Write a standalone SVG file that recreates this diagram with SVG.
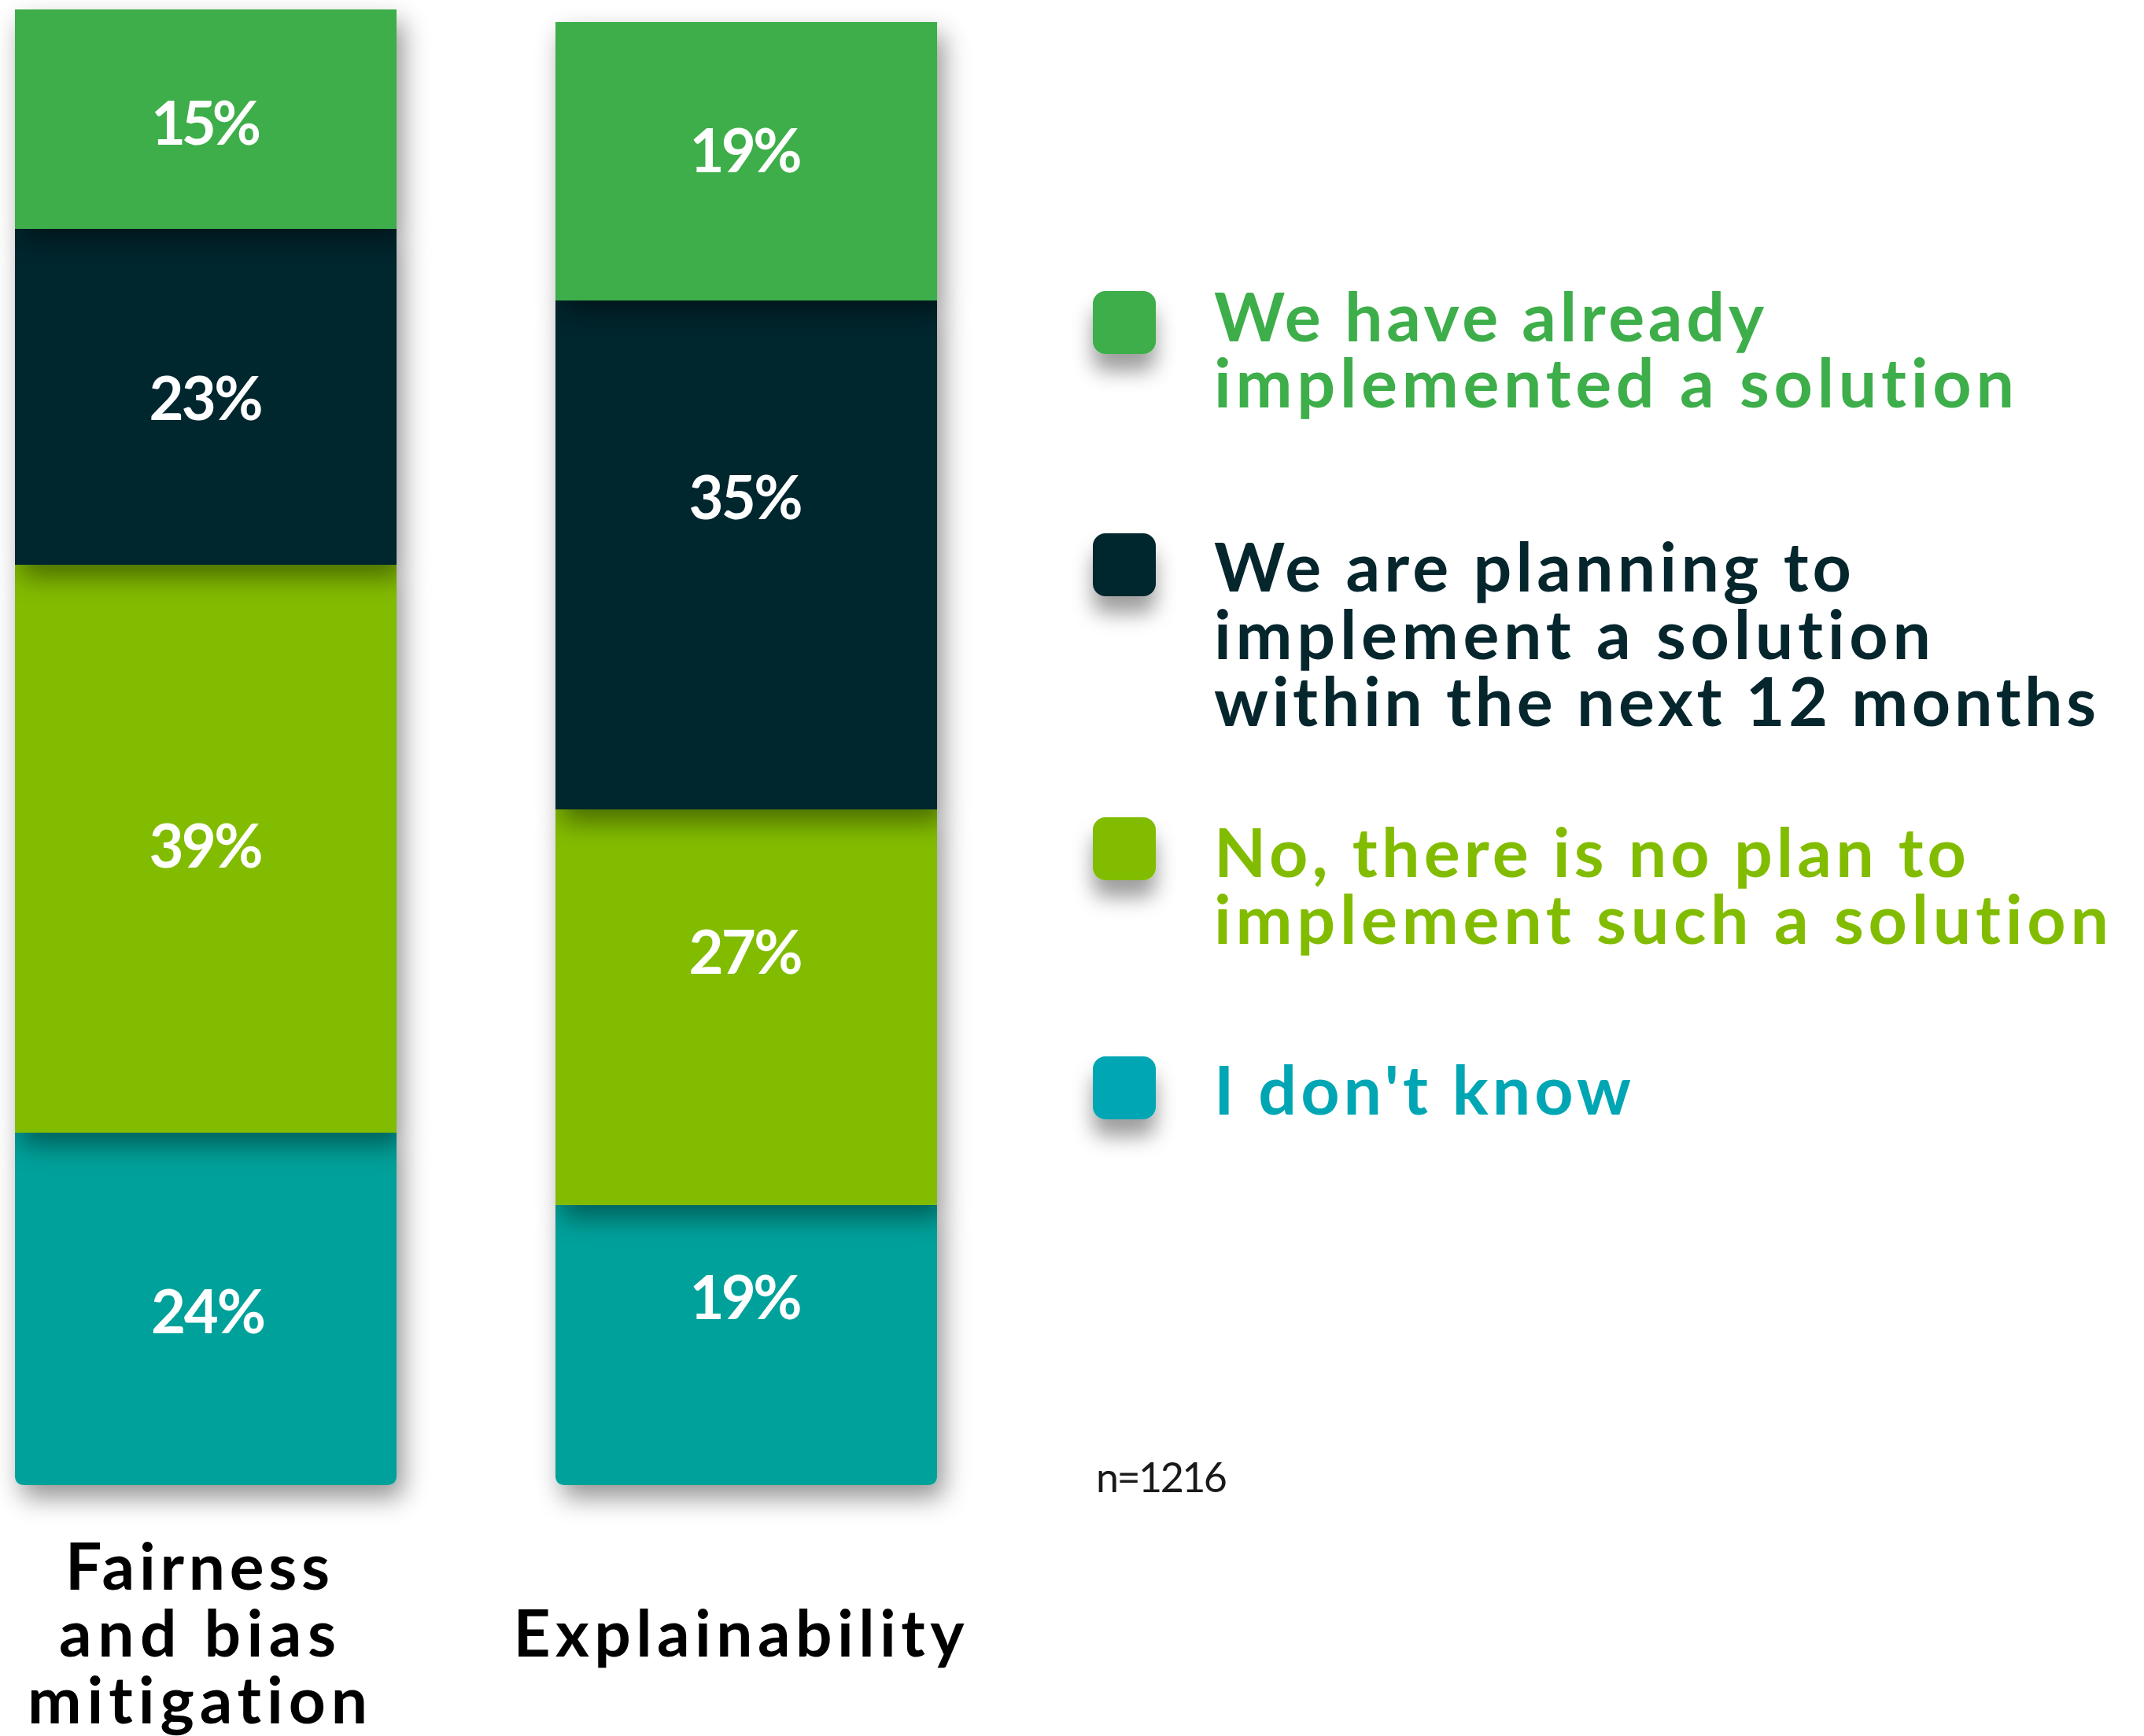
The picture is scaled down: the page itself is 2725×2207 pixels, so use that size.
<svg xmlns="http://www.w3.org/2000/svg" width="2725" height="2207" viewBox="0 0 2725 2207">
  <defs>
    <filter id="segShadow" x="-30%" y="-30%" width="160%" height="170%">
      <feDropShadow dx="8" dy="16" stdDeviation="16" flood-color="#000" flood-opacity="0.42"/>
    </filter>
    <filter id="keyShadow" x="-60%" y="-60%" width="220%" height="240%">
      <feDropShadow dx="0" dy="22" stdDeviation="13" flood-color="#000" flood-opacity="0.38"/>
    </filter>
    <style>
      text { font-variant-ligatures: none; font-feature-settings: "liga" 0, "clig" 0, "dlig" 0; }
      .pct { font-family: "Lato", "Open Sans", sans-serif; font-weight: 700; font-size: 76px; fill: #ffffff; text-anchor: middle; }
      .leg { font-family: "Lato", "Open Sans", sans-serif; font-weight: 700; font-size: 86px; }
      .cat { font-family: "Lato", "Open Sans", sans-serif; font-weight: 700; font-size: 82px; fill: #000000; text-anchor: middle; }
      .note { font-family: "Lato", "Open Sans", sans-serif; font-weight: 400; font-size: 52px; fill: #1a1a1a; }
      .c-green { fill: #3DAE4A; }
      .c-dark { fill: #06262D; }
      .c-olive { fill: #82BC00; }
      .c-teal { fill: #00A19A; }
      .c-cyan { fill: #00A6B4; }
    </style>
  </defs>
  <rect width="2725" height="2207" fill="#ffffff"/>

  <!-- Bar 1: Fairness and bias mitigation -->
  <g id="bar-fairness">
    <path class="c-teal" filter="url(#segShadow)" d="M19,1440 H504 V1876 Q504,1888 492,1888 H31 Q19,1888 19,1876 Z"/>
    <rect class="c-olive" filter="url(#segShadow)" x="19" y="718" width="485" height="722"/>
    <rect class="c-dark" filter="url(#segShadow)" x="19" y="291" width="485" height="427"/>
    <rect class="c-green" filter="url(#segShadow)" x="19" y="12" width="485" height="279"/>
    <text class="pct" x="262" y="184" textLength="140" lengthAdjust="spacing">15%</text>
    <text class="pct" x="262" y="534" textLength="145" lengthAdjust="spacing">23%</text>
    <text class="pct" x="262" y="1103" textLength="145" lengthAdjust="spacing">39%</text>
    <text class="pct" x="265" y="1695" textLength="146" lengthAdjust="spacing">24%</text>
  </g>

  <!-- Bar 2: Explainability -->
  <g id="bar-explainability">
    <path class="c-teal" filter="url(#segShadow)" d="M706,1532 H1191 V1876 Q1191,1888 1179,1888 H718 Q706,1888 706,1876 Z"/>
    <rect class="c-olive" filter="url(#segShadow)" x="706" y="1029" width="485" height="503"/>
    <rect class="c-dark" filter="url(#segShadow)" x="706" y="382" width="485" height="647"/>
    <rect class="c-green" filter="url(#segShadow)" x="706" y="28" width="485" height="354"/>
    <text class="pct" x="948" y="219" textLength="143" lengthAdjust="spacing">19%</text>
    <text class="pct" x="948" y="660" textLength="145" lengthAdjust="spacing">35%</text>
    <text class="pct" x="948" y="1238" textLength="145" lengthAdjust="spacing">27%</text>
    <text class="pct" x="948" y="1677" textLength="143" lengthAdjust="spacing">19%</text>
  </g>

  <!-- Category labels -->
  <g id="label-fairness">
    <text class="cat" x="251" y="2021" textLength="336" lengthAdjust="spacing">Fairness</text>
    <text class="cat" x="251" y="2106" textLength="352" lengthAdjust="spacing">and bias</text>
    <text class="cat" x="251" y="2191" textLength="432" lengthAdjust="spacing">mitigation</text>
  </g>
  <g id="label-explainability">
    <text class="cat" x="939" y="2106" textLength="573" lengthAdjust="spacing">Explainability</text>
  </g>

  <!-- Legend -->
  <g id="legend-implemented">
    <rect class="c-green" filter="url(#keyShadow)" x="1389" y="370" width="80" height="80" rx="16"/>
    <text class="leg c-green" x="1543" y="434" textLength="699" lengthAdjust="spacing">We have already</text>
    <text class="leg c-green" x="1543" y="518" textLength="1017" lengthAdjust="spacing">implemented a solution</text>
  </g>
  <g id="legend-planning">
    <rect class="c-dark" filter="url(#keyShadow)" x="1389" y="678" width="80" height="80" rx="16"/>
    <text class="leg c-dark" x="1543" y="752" textLength="810" lengthAdjust="spacing">We are planning to</text>
    <text class="leg c-dark" x="1543" y="838" textLength="911" lengthAdjust="spacing">implement a solution</text>
    <text class="leg c-dark" x="1543" y="923" textLength="1121" lengthAdjust="spacing">within the next 12 months</text>
  </g>
  <g id="legend-noplan">
    <rect class="c-olive" filter="url(#keyShadow)" x="1389" y="1039" width="80" height="80" rx="16"/>
    <text class="leg c-olive" x="1543" y="1115" textLength="956" lengthAdjust="spacing">No, there is no plan to</text>
    <text class="leg c-olive" x="1543" y="1200" textLength="1137" lengthAdjust="spacing">implement such a solution</text>
  </g>
  <g id="legend-dontknow">
    <rect class="c-cyan" filter="url(#keyShadow)" x="1389" y="1343" width="80" height="80" rx="16"/>
    <text class="leg c-cyan" x="1543" y="1417" textLength="530" lengthAdjust="spacing">I don't know</text>
  </g>

  <g id="note">
    <text class="note" x="1393" y="1897" textLength="167" lengthAdjust="spacing">n=1216</text>
  </g>

  <g id="connectors"></g>
</svg>
